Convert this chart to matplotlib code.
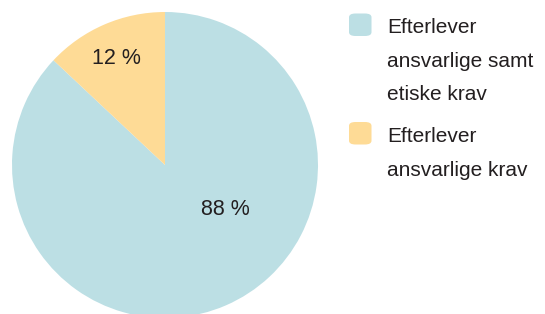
import matplotlib.pyplot as plt
from matplotlib.patches import FancyBboxPatch

# data
labels = ["Efterlever\nansvarlige samt\netiske krav", "Efterlever\nansvarlige krav"]
values = [87, 13]          # wedge sizes
colors = ["#bcdfe4", "#fedb96"]
pct_text = ["88 %", "12 %"]

W, H = 545, 314
plt.rcParams['font.family'] = ["Liberation Sans", "DejaVu Sans"]
txt_color = "#231f20"

fig = plt.figure(figsize=(W / 100, H / 100), dpi=100)

# pie axes placed in pixels: center (165, 165), radius 153
cx, cy, r = 165, 165, 153
ax = fig.add_axes([(cx - r) / W, (H - cy - r) / H, 2 * r / W, 2 * r / H])
wedges, _ = ax.pie(values, colors=colors, startangle=90, counterclock=False,
                   radius=1, wedgeprops=dict(linewidth=0))
ax.set_xlim(-1, 1)
ax.set_ylim(-1, 1)
ax.set_aspect('equal')
ax.axis('off')

# percent labels (pixel x center, baseline y)
label_pos = [(225.5, 215), (116, 64.5)]
for (px, py), t in zip(label_pos, pct_text):
    fig.text(px / W, 1 - py / H, t, ha='center', va='baseline',
             fontsize=15.5, color=txt_color)

# legend, drawn by hand
line_h = 33.5
block_base = [33.3, 142]
box_top = [13.5, 122]
for lab, col, b0, bt in zip(labels, colors, block_base, box_top):
    box = FancyBboxPatch((349 / W, 1 - (bt + 22.5) / H), 22.5 / W, 22.5 / H,
                         boxstyle="round,pad=0,rounding_size=0.012",
                         transform=fig.transFigure, facecolor=col,
                         edgecolor='none')
    fig.patches.append(box)
    for j, ln in enumerate(lab.split("\n")):
        fig.text(387 / W, 1 - (b0 + j * line_h) / H, ln, ha='left',
                 va='baseline', fontsize=15, color=txt_color)

plt.savefig("out.png", dpi=100)
